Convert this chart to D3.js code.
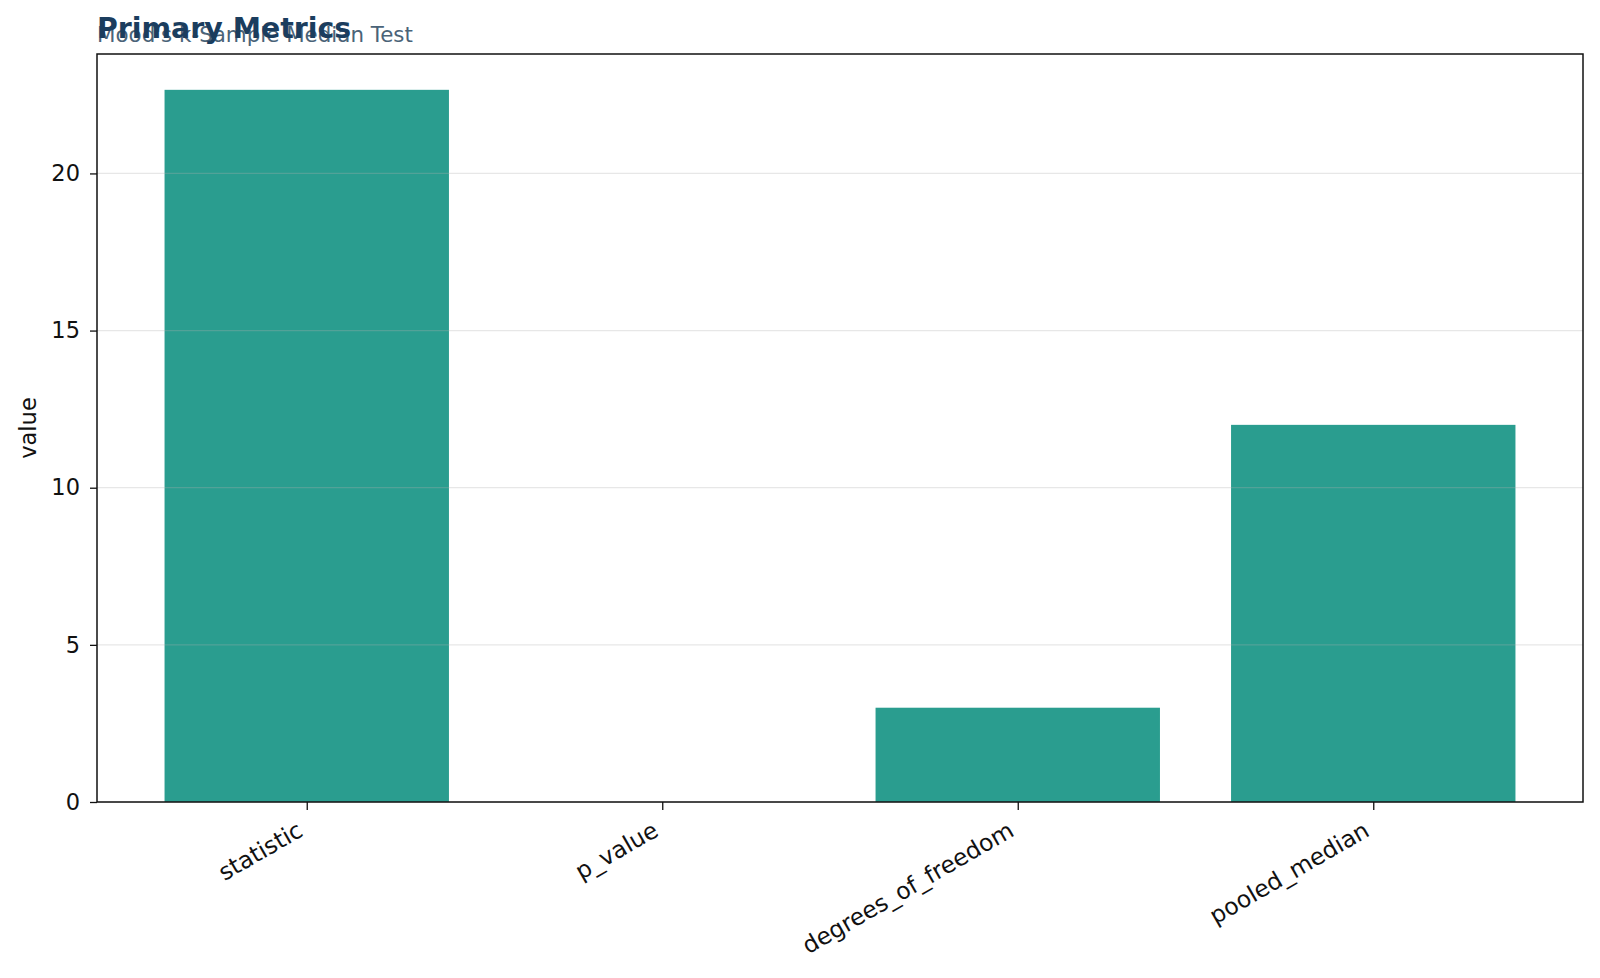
<!DOCTYPE html>
<html><head><meta charset="utf-8">
<script src="https://cdn.jsdelivr.net/npm/d3@7/dist/d3.min.js"></script>
<style>body{margin:0;background:#fff;font-family:"DejaVu Sans",sans-serif}</style>
</head><body><svg id="c" width="1600" height="978"></svg>
<script>
const categories = ["statistic","p_value","degrees_of_freedom","pooled_median"];
const values = [22.66, 0.00005, 3, 12];
const yTicks = [0,5,10,15,20];

const m = {l:97, r:17, t:54, b:176};
const W = 1600, H = 978;
const svg = d3.select("#c");
const iw = W-m.l-m.r, ih = H-m.t-m.b;
const g = svg.append("g").attr("transform",`translate(${m.l},${m.t})`);

const x = d3.scaleLinear().domain([-0.59, 3.59]).range([0, iw]);
const y = d3.scaleLinear().domain([0, 23.8]).range([ih, 0]);

g.selectAll("rect.bar").data(values).join("rect").attr("class","bar")
  .attr("x",(d,i)=>x(i-0.4)).attr("width",(d,i)=>x(i+0.4)-x(i-0.4))
  .attr("y",d=>y(d)).attr("height",d=>ih-y(d)).attr("fill","#2a9d8f");

g.selectAll("line.grid").data(yTicks).join("line").attr("class","grid")
  .attr("x1",0).attr("x2",iw).attr("y1",d=>y(d)).attr("y2",d=>y(d))
  .attr("stroke","#b0b0b0").attr("stroke-opacity",0.3).attr("stroke-width",1.2);

const fs = 22.5, fx = 23.5;
const ya = g.append("g").call(d3.axisLeft(y).tickValues(yTicks).tickSize(7).tickPadding(10));
ya.select(".domain").remove();
ya.selectAll("text").attr("font-size",fs).attr("font-family","DejaVu Sans").attr("fill","#111");
ya.selectAll("line").attr("stroke","#111").attr("stroke-width",1.3);

const xa = g.append("g").attr("transform",`translate(0,${ih})`)
  .call(d3.axisBottom(x).tickValues(d3.range(categories.length)).tickFormat(i=>categories[i]).tickSize(8).tickPadding(0));
xa.select(".domain").remove();
xa.selectAll("line").attr("stroke","#111").attr("stroke-width",1.3);
const h = 1.164*fx;
xa.selectAll("text").attr("font-size",fx).attr("font-family","DejaVu Sans").attr("fill","#111")
  .attr("text-anchor","end").attr("y",0).attr("dy","0.93em")
  .attr("transform",`translate(${-0.5*h},${8+6}) rotate(-30)`);

g.append("rect").attr("x",0).attr("y",0).attr("width",iw).attr("height",ih)
  .attr("fill","none").attr("stroke","#111").attr("stroke-width",1.5);

svg.append("text").attr("x",28).attr("y",m.t+ih/2).attr("transform",`rotate(-90,28,${m.t+ih/2})`)
  .attr("text-anchor","middle").attr("dy","0.35em").attr("font-size",fs).attr("fill","#111").text("value");

svg.append("text").attr("x",97).attr("y",41.5).attr("font-size",21.4).attr("fill","#4a6378").text("Mood's k-Sample Median Test");
svg.append("text").attr("x",97).attr("y",37.5).attr("font-size",28.4).attr("font-weight","bold").attr("fill","#1b3d5e").text("Primary Metrics");
</script></body></html>
